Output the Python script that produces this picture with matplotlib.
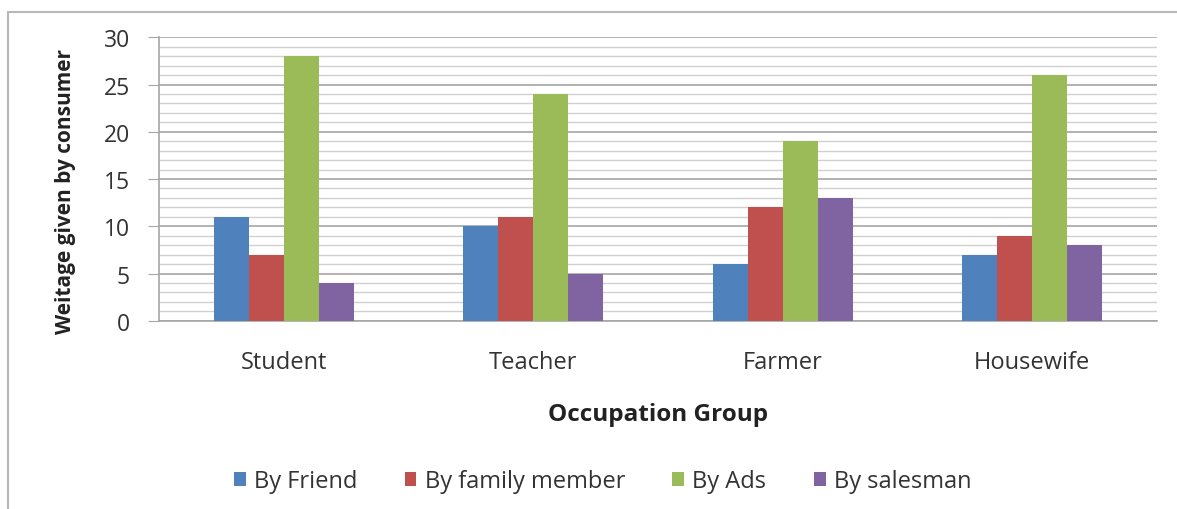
import matplotlib
matplotlib.use("Agg")
import matplotlib.pyplot as plt
import numpy as np
from matplotlib.patches import Rectangle
from matplotlib.ticker import MultipleLocator

plt.rcParams['font.family'] = ['Open Sans', 'DejaVu Sans']

groups = ['Student', 'Teacher', 'Farmer', 'Housewife']
series = ['By Friend', 'By family member', 'By Ads', 'By salesman']
by_friend = [11, 10, 6, 7]
by_family = [7, 11, 12, 9]
by_ads = [28, 24, 19, 26]
by_salesman = [4, 5, 13, 8]
colors = ['#4F81BD', '#C0504D', '#9BBB59', '#8064A2']

fig = plt.figure(figsize=(11.77, 5.10), dpi=100)
ax = fig.add_axes([0.135, 0.369, 0.848, 0.556])

x = np.arange(len(groups))
w = 0.14
for i, (vals, name) in enumerate(zip([by_friend, by_family, by_ads, by_salesman], series)):
    ax.bar(x + (i - 1.5) * w, vals, w, color=colors[i], label=name, zorder=3)

ax.set_xlim(-0.5, 3.5)
ax.set_ylim(0, 30)
ax.yaxis.set_major_locator(MultipleLocator(5))
ax.yaxis.set_minor_locator(MultipleLocator(1))
ax.grid(axis='y', which='major', color='#a6a6a6', lw=1.2, zorder=0)
ax.grid(axis='y', which='minor', color='#d0d0d0', lw=1.0, zorder=0)

for s in ['top', 'right']:
    ax.spines[s].set_visible(False)
ax.spines['left'].set_color('#a6a6a6')
ax.spines['bottom'].set_color('#a6a6a6')
ax.spines['left'].set_linewidth(1.2)
ax.spines['bottom'].set_linewidth(1.2)

ax.set_xticks(x)
ax.set_xticklabels(groups, fontsize=17, color='#333333')
ax.tick_params(axis='x', length=0, pad=21)
ax.tick_params(axis='y', which='major', length=8, color='#a6a6a6', labelsize=16.5,
               labelcolor='#333333', pad=13)
ax.tick_params(axis='y', which='minor', length=0)

ax.set_ylabel('Weitage given by consumer', fontsize=15, fontweight='bold', color='#222222')
ax.yaxis.set_label_coords(-0.083, 0.46)
ax.set_xlabel('Occupation Group', fontsize=17.5, fontweight='bold', color='#222222', labelpad=20)

fig.legend(loc='center', bbox_to_anchor=(0.512, 0.054), ncol=4, frameon=False,
           fontsize=17, handlelength=0.5, handleheight=0.5, handletextpad=0.35,
           columnspacing=2.0, labelcolor='#333333')

# outer chart border
fig.patches.append(Rectangle((8 / 1177, -0.05), 1.1, 1.05 - 13 / 510, transform=fig.transFigure,
                             fill=False, edgecolor='#b8b8b8', lw=1.5))

fig.savefig('out.png', dpi=100)
